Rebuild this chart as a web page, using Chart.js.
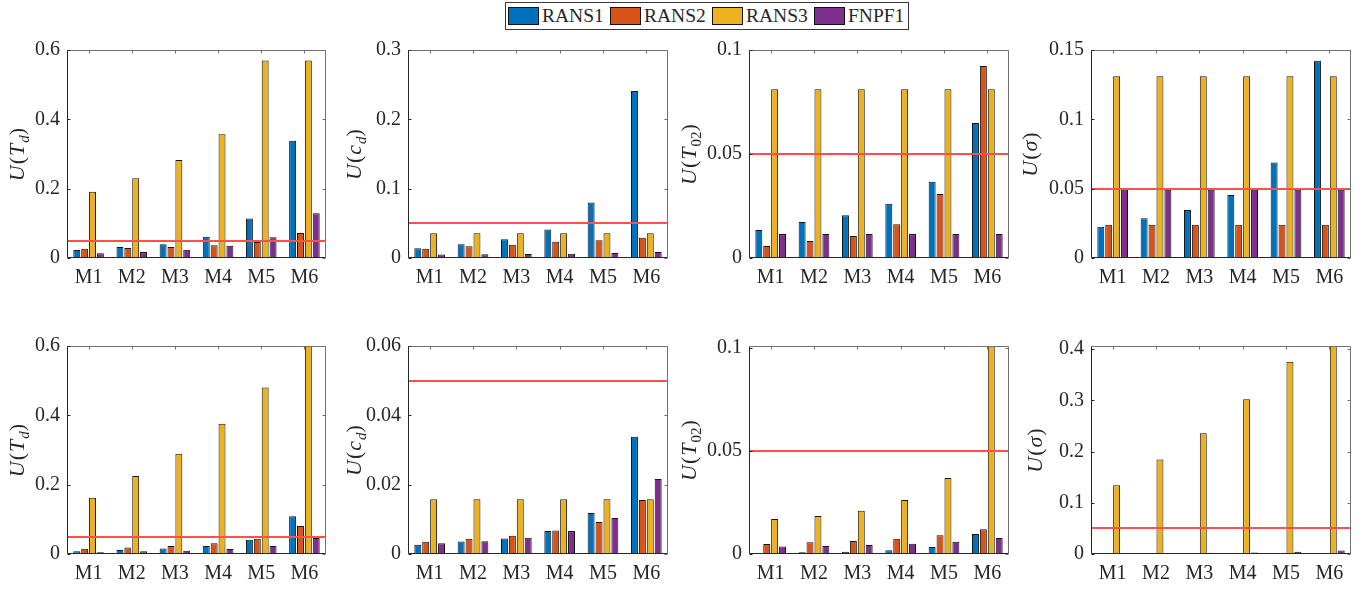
<!DOCTYPE html>
<html>
<head>
<meta charset="utf-8">
<script src="https://cdn.jsdelivr.net/npm/chart.js@4.4.1/dist/chart.umd.min.js"></script>
<style>
html,body{margin:0;padding:0;background:#fff;}
body{width:1371px;height:589px;position:relative;overflow:hidden;font-family:'Liberation Serif',serif;}
canvas.pane{position:absolute;}
#legend{position:absolute;left:505px;top:2px;width:402px;height:26px;border:1px solid #3a3a3a;background:#fff;box-sizing:content-box;}
#legend .item{position:absolute;top:4px;height:18px;display:flex;align-items:center;white-space:nowrap;}
#legend .sw{display:inline-block;width:29px;height:16px;border:1px solid #111;}
#legend .tx{margin-left:3px;color:#262626;line-height:18px;}
.ylab{position:absolute;transform:translate(-50%,-50%) rotate(-90deg);white-space:nowrap;line-height:1;color:#262626;letter-spacing:1px;z-index:2;}
.ylab .sb{font-size:15px;position:relative;top:5px;letter-spacing:0;}
</style>
</head>
<body>
<div id="legend">
  <div class="item" style="left:2px"><span class="sw"></span><span class="tx" style="font:19.5px 'Liberation Serif', serif">RANS1</span></div>
  <div class="item" style="left:104px"><span class="sw"></span><span class="tx" style="font:19.5px 'Liberation Serif', serif">RANS2</span></div>
  <div class="item" style="left:206px"><span class="sw"></span><span class="tx" style="font:19.5px 'Liberation Serif', serif">RANS3</span></div>
  <div class="item" style="left:308px"><span class="sw"></span><span class="tx" style="font:19.5px 'Liberation Serif', serif">FNPF1</span></div>
</div>
<div class="ylab" style="left:17px;top:154px;font:22px 'Liberation Serif', serif"><i>U</i>(<i>T</i><span class="sb"><i>d</i></span>)</div>
<div class="ylab" style="left:354px;top:154px;font:22px 'Liberation Serif', serif"><i>U</i>(<i>c</i><span class="sb"><i>d</i></span>)</div>
<div class="ylab" style="left:689px;top:154px;font:22px 'Liberation Serif', serif"><i>U</i>(<i>T</i><span class="sb">02</span>)</div>
<div class="ylab" style="left:1030px;top:154px;font:22px 'Liberation Serif', serif"><i>U</i>(<i>σ</i>)</div>
<div class="ylab" style="left:17px;top:450px;font:22px 'Liberation Serif', serif"><i>U</i>(<i>T</i><span class="sb"><i>d</i></span>)</div>
<div class="ylab" style="left:354px;top:450px;font:22px 'Liberation Serif', serif"><i>U</i>(<i>c</i><span class="sb"><i>d</i></span>)</div>
<div class="ylab" style="left:689px;top:450px;font:22px 'Liberation Serif', serif"><i>U</i>(<i>T</i><span class="sb">02</span>)</div>
<div class="ylab" style="left:1035px;top:450px;font:22px 'Liberation Serif', serif"><i>U</i>(<i>σ</i>)</div>
<script>
(function primeFonts(){
  const c = document.createElement('canvas').getContext('2d');
  ['', 'italic '].forEach(st=>{
    try { document.fonts.check(st + "20px 'Liberation Serif'"); } catch(e) {}
    c.font = st + "20px 'Liberation Serif'";
    c.measureText('RANS1 M1 0.05');
  });
})();

// ---------- categories / series / thresholds ----------
const categories = ['M1','M2','M3','M4','M5','M6'];
const seriesNames = ['RANS1','RANS2','RANS3','FNPF1'];
const threshold = [0.05];

// ---------- top row ----------
const topTd_RANS1 = [0.023, 0.032, 0.040, 0.061, 0.114, 0.338];
const topTd_RANS2 = [0.027, 0.029, 0.032, 0.037, 0.046, 0.072];
const topTd_RANS3 = [0.191, 0.230, 0.283, 0.357, 0.570, 0.570];
const topTd_FNPF1 = [0.0135, 0.017, 0.024, 0.035, 0.060, 0.129];

const topCd_RANS1 = [0.014, 0.0197, 0.027, 0.041, 0.080, 0.241];
const topCd_RANS2 = [0.0135, 0.0168, 0.019, 0.0236, 0.0255, 0.0293];
const topCd_RANS3 = [0.0356, 0.0356, 0.0356, 0.0356, 0.0356, 0.0356];
const topCd_FNPF1 = [0.005, 0.0053, 0.0058, 0.0063, 0.0072, 0.0087];

const topT02_RANS1 = [0.0135, 0.0173, 0.0205, 0.0261, 0.0367, 0.0649];
const topT02_RANS2 = [0.0058, 0.0082, 0.0106, 0.0162, 0.0308, 0.0923];
const topT02_RANS3 = [0.0811, 0.0811, 0.0811, 0.0811, 0.0811, 0.0811];
const topT02_FNPF1 = [0.0115, 0.0115, 0.0115, 0.0115, 0.0115, 0.0115];

const topSig_RANS1 = [0.0226, 0.0286, 0.0346, 0.0454, 0.0688, 0.1423];
const topSig_RANS2 = [0.024, 0.024, 0.024, 0.024, 0.024, 0.024];
const topSig_RANS3 = [0.131, 0.131, 0.131, 0.131, 0.131, 0.131];
const topSig_FNPF1 = [0.0493, 0.0493, 0.0493, 0.0493, 0.0493, 0.0493];

// ---------- bottom row ----------
const botTd_RANS1 = [0.0077, 0.0115, 0.016, 0.023, 0.041, 0.109];
const botTd_RANS2 = [0.0154, 0.019, 0.023, 0.031, 0.044, 0.081];
const botTd_RANS3 = [0.1625, 0.225, 0.289, 0.376, 0.480, 0.600];
const botTd_FNPF1 = [0.005, 0.0077, 0.0096, 0.0144, 0.023, 0.046];

const botCd_RANS1 = [0.0027, 0.0036, 0.0045, 0.0066, 0.0118, 0.0338];
const botCd_RANS2 = [0.0035, 0.0044, 0.0053, 0.0068, 0.0092, 0.0156];
const botCd_RANS3 = [0.0158, 0.0158, 0.0158, 0.0158, 0.0158, 0.0158];
const botCd_FNPF1 = [0.0031, 0.0037, 0.0047, 0.0066, 0.0104, 0.0216];

const botT02_RANS1 = [0.0005, 0.0008, 0.0011, 0.0018, 0.0034, 0.0097];
const botT02_RANS2 = [0.0049, 0.0057, 0.0063, 0.0074, 0.0091, 0.012];
const botT02_RANS3 = [0.017, 0.0184, 0.021, 0.0262, 0.0369, 0.101];
const botT02_FNPF1 = [0.0036, 0.0039, 0.0044, 0.005, 0.006, 0.0078];

const botSig_RANS1 = [0.0008, 0.0008, 0.0008, 0.0008, 0.0008, 0.0008];
const botSig_RANS2 = [0.0008, 0.0008, 0.0008, 0.0008, 0.0008, 0.0008];
const botSig_RANS3 = [0.1344, 0.1844, 0.2357, 0.302, 0.3753, 0.406];
const botSig_FNPF1 = [0.002, 0.002, 0.0025, 0.003, 0.0045, 0.007];

// ---------- y tick labels / axis limits ----------
const yTicks_topTd  = [0, 0.2, 0.4, 0.6];
const yTicks_topCd  = [0, 0.1, 0.2, 0.3];
const yTicks_topT02 = [0, 0.05, 0.1];
const yTicks_topSig = [0, 0.05, 0.1, 0.15];
const yTicks_botTd  = [0, 0.2, 0.4, 0.6];
const yTicks_botCd  = [0, 0.02, 0.04, 0.06];
const yTicks_botT02 = [0, 0.05, 0.1];
const yTicks_botSig = [0, 0.1, 0.2, 0.3, 0.4];
const yMax = [0.6, 0.3, 0.1, 0.15, 0.6, 0.06, 0.101, 0.406];

// ---------- styling / layout ----------
const COLORS = ['#0072BD','#D95319','#EDB120','#7E2F8E'];
const TXT = '#262626';
const FONT = "'Liberation Serif', serif";
const COLS = [
  {ox:0,    cw:341, pl:67,   pr:326},
  {ox:341,  cw:341, pl:408,  pr:668},
  {ox:682,  cw:340, pl:749,  pr:1009},
  {ox:1022, cw:349, pl:1091, pr:1351}
];
const ROWS = [
  {oy:30,  ch:270, pt:50,  pb:258},
  {oy:300, ch:289, pt:346, pb:554}
];

const panels = [
  {col:0,row:0,series:[topTd_RANS1,topTd_RANS2,topTd_RANS3,topTd_FNPF1],ticks:yTicks_topTd,max:yMax[0]},
  {col:1,row:0,series:[topCd_RANS1,topCd_RANS2,topCd_RANS3,topCd_FNPF1],ticks:yTicks_topCd,max:yMax[1]},
  {col:2,row:0,series:[topT02_RANS1,topT02_RANS2,topT02_RANS3,topT02_FNPF1],ticks:yTicks_topT02,max:yMax[2]},
  {col:3,row:0,series:[topSig_RANS1,topSig_RANS2,topSig_RANS3,topSig_FNPF1],ticks:yTicks_topSig,max:yMax[3]},
  {col:0,row:1,series:[botTd_RANS1,botTd_RANS2,botTd_RANS3,botTd_FNPF1],ticks:yTicks_botTd,max:yMax[4]},
  {col:1,row:1,series:[botCd_RANS1,botCd_RANS2,botCd_RANS3,botCd_FNPF1],ticks:yTicks_botCd,max:yMax[5]},
  {col:2,row:1,series:[botT02_RANS1,botT02_RANS2,botT02_RANS3,botT02_FNPF1],ticks:yTicks_botT02,max:yMax[6]},
  {col:3,row:1,series:[botSig_RANS1,botSig_RANS2,botSig_RANS3,botSig_FNPF1],ticks:yTicks_botSig,max:yMax[7]}
];

document.querySelectorAll('#legend .sw').forEach((s,i)=>{ s.style.background = COLORS[i]; });

// ---------- frame / threshold plugin ----------
const framePlugin = {
  id:'frame',
  afterDatasetsDraw(chart){
    const {ctx, chartArea:a, scales:{x,y}} = chart;
    ctx.save();
    ctx.beginPath(); ctx.rect(a.left, a.top, a.right-a.left, a.bottom-a.top); ctx.clip();
    threshold.forEach(v=>{
      const py = Math.round(y.getPixelForValue(v));
      ctx.strokeStyle = '#FF4F4F'; ctx.lineWidth = 2;
      ctx.beginPath(); ctx.moveTo(a.left, py); ctx.lineTo(a.right, py); ctx.stroke();
    });
    ctx.restore();
    ctx.save();
    const L = Math.round(a.left)+0.5, R = Math.round(a.right)-0.5;
    const T = Math.round(a.top)+0.5, B = Math.round(a.bottom)-0.5;
    const TL = 3;
    ctx.lineWidth = 1;
    ctx.strokeStyle = '#707070';
    ctx.beginPath(); ctx.moveTo(L, T); ctx.lineTo(R, T); ctx.lineTo(R, B); ctx.stroke();
    ctx.beginPath();
    y.ticks.forEach(t=>{ const py = Math.round(y.getPixelForValue(t.value))+0.5; ctx.moveTo(R, py); ctx.lineTo(R-TL, py); });
    x.ticks.forEach((t,i)=>{ const px = Math.round(x.getPixelForValue(i))+0.5; ctx.moveTo(px, T); ctx.lineTo(px, T+TL); });
    ctx.stroke();
    ctx.strokeStyle = TXT;
    ctx.beginPath(); ctx.moveTo(L, T); ctx.lineTo(L, B); ctx.lineTo(R, B); ctx.stroke();
    ctx.beginPath();
    y.ticks.forEach(t=>{ const py = Math.round(y.getPixelForValue(t.value))+0.5; ctx.moveTo(L, py); ctx.lineTo(L+TL, py); });
    ctx.stroke();
    ctx.restore();
  }
};

// ---------- build charts ----------
const charts = [];
panels.forEach(p=>{
  const C = COLS[p.col], R = ROWS[p.row];
  const cv = document.createElement('canvas');
  cv.className = 'pane';
  cv.width = C.cw; cv.height = R.ch;
  cv.style.left = C.ox + 'px'; cv.style.top = R.oy + 'px';
  cv.style.width = C.cw + 'px'; cv.style.height = R.ch + 'px';
  document.body.appendChild(cv);
  charts.push(new Chart(cv, {
    type:'bar',
    data:{
      labels:categories,
      datasets:p.series.map((d,i)=>({
        label:seriesNames[i], data:d,
        backgroundColor:COLORS[i], borderColor:'#151515', borderWidth:1, borderSkipped:false,
        categoryPercentage:0.73, barPercentage:0.88
      }))
    },
    options:{
      responsive:false, animation:false, devicePixelRatio:1,
      layout:{padding:{top:R.pt-R.oy, right:C.ox+C.cw-C.pr, left:0, bottom:0}},
      plugins:{legend:{display:false}, tooltip:{enabled:false}},
      scales:{
        x:{
          offset:true,
          grid:{display:false, drawTicks:false}, border:{display:false},
          ticks:{font:{family:FONT, size:20}, color:TXT, padding:8, maxRotation:0, autoSkip:false},
          afterFit(s){ s.height = R.oy + R.ch - R.pb; }
        },
        y:{
          min:0, max:p.max,
          grid:{display:false, drawTicks:false}, border:{display:false},
          ticks:{font:{family:FONT, size:20}, color:TXT, padding:7, callback:(v)=>String(v)},
          afterBuildTicks(s){ s.ticks = p.ticks.map(v=>({value:v})); },
          afterFit(s){ s.width = C.pl - C.ox; }
        }
      }
    },
    plugins:[framePlugin]
  }));
});
const redraw = ()=>charts.forEach(c=>c.update('none'));
if (document.fonts && document.fonts.ready) document.fonts.ready.then(redraw);
setTimeout(redraw, 150);
</script>
</body>
</html>
